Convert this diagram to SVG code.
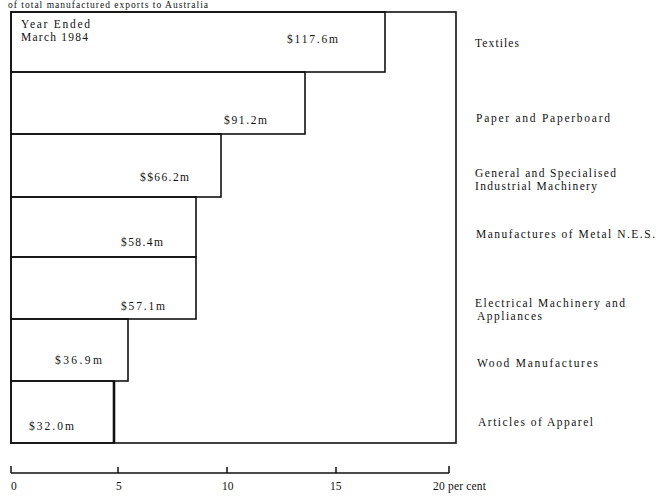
<svg xmlns="http://www.w3.org/2000/svg" width="659" height="496" viewBox="0 0 659 496">
<style>
text{font-family:"Liberation Serif","Times New Roman",serif;font-size:11.5px;fill:#111}
.bar{fill:none;stroke:#111;stroke-width:1.6}
.ax{stroke:#111;stroke-width:1.5;fill:none}
</style>
<rect width="659" height="496" fill="#fff"/>
<text x="8" y="8" style="font-size:9.5px" textLength="200" lengthAdjust="spacing">of total manufactured exports to Australia</text>
<g id="frame"><rect class="bar" x="11" y="12" width="445" height="431"/></g>
<g id="textiles">
<rect class="bar" x="11" y="12" width="374" height="60"/>
<text x="21" y="28" textLength="69" lengthAdjust="spacing">Year Ended</text>
<text x="21" y="41" textLength="67" lengthAdjust="spacing">March 1984</text>
<text x="287" y="43" textLength="51" lengthAdjust="spacing">$117.6m</text>
<text x="475" y="47" textLength="44" lengthAdjust="spacing">Textiles</text>
</g>
<g id="paper">
<rect class="bar" x="11" y="72" width="294" height="62"/>
<text x="224" y="124" textLength="43" lengthAdjust="spacing">$91.2m</text>
<text x="476" y="122" textLength="134" lengthAdjust="spacing">Paper and Paperboard</text>
</g>
<g id="general">
<rect class="bar" x="11" y="134" width="210" height="63"/>
<text x="140" y="181" textLength="49" lengthAdjust="spacing">$$66.2m</text>
<text x="475" y="177" textLength="141" lengthAdjust="spacing">General and Specialised</text>
<text x="475" y="190" textLength="122" lengthAdjust="spacing">Industrial Machinery</text>
</g>
<g id="metal">
<rect class="bar" x="11" y="197" width="185" height="60"/>
<text x="121" y="246" textLength="42" lengthAdjust="spacing">$58.4m</text>
<text x="476" y="238" textLength="179" lengthAdjust="spacing">Manufactures of Metal N.E.S.</text>
</g>
<g id="electrical">
<rect class="bar" x="11" y="257" width="185" height="62"/>
<text x="121" y="310" textLength="44" lengthAdjust="spacing">$57.1m</text>
<text x="475" y="307" textLength="150" lengthAdjust="spacing">Electrical Machinery and</text>
<text x="477" y="320" textLength="65" lengthAdjust="spacing">Appliances</text>
</g>
<g id="wood">
<rect class="bar" x="11" y="319" width="117" height="62"/>
<text x="55" y="364" textLength="47" lengthAdjust="spacing">$36.9m</text>
<text x="477" y="367" textLength="121" lengthAdjust="spacing">Wood Manufactures</text>
</g>
<g id="apparel">
<rect class="bar" x="11" y="381" width="103" height="62"/>
<line x1="114" y1="381" x2="114" y2="443" stroke="#111" stroke-width="2.6"/>
<text x="29" y="430" textLength="45" lengthAdjust="spacing">$32.0m</text>
<text x="478" y="426" textLength="115" lengthAdjust="spacing">Articles of Apparel</text>
</g>
<g id="connectors"></g>
<g id="axis">
<path class="ax" d="M11 473H449M11 466V473M118 467V473M227 467V473M336 467V473M449 466V473"/>
<text x="11" y="490">0</text>
<text x="116" y="490">5</text>
<text x="222" y="490">10</text>
<text x="330" y="490">15</text>
<text x="433" y="490" textLength="53" lengthAdjust="spacing">20 per cent</text>
</g>
</svg>
